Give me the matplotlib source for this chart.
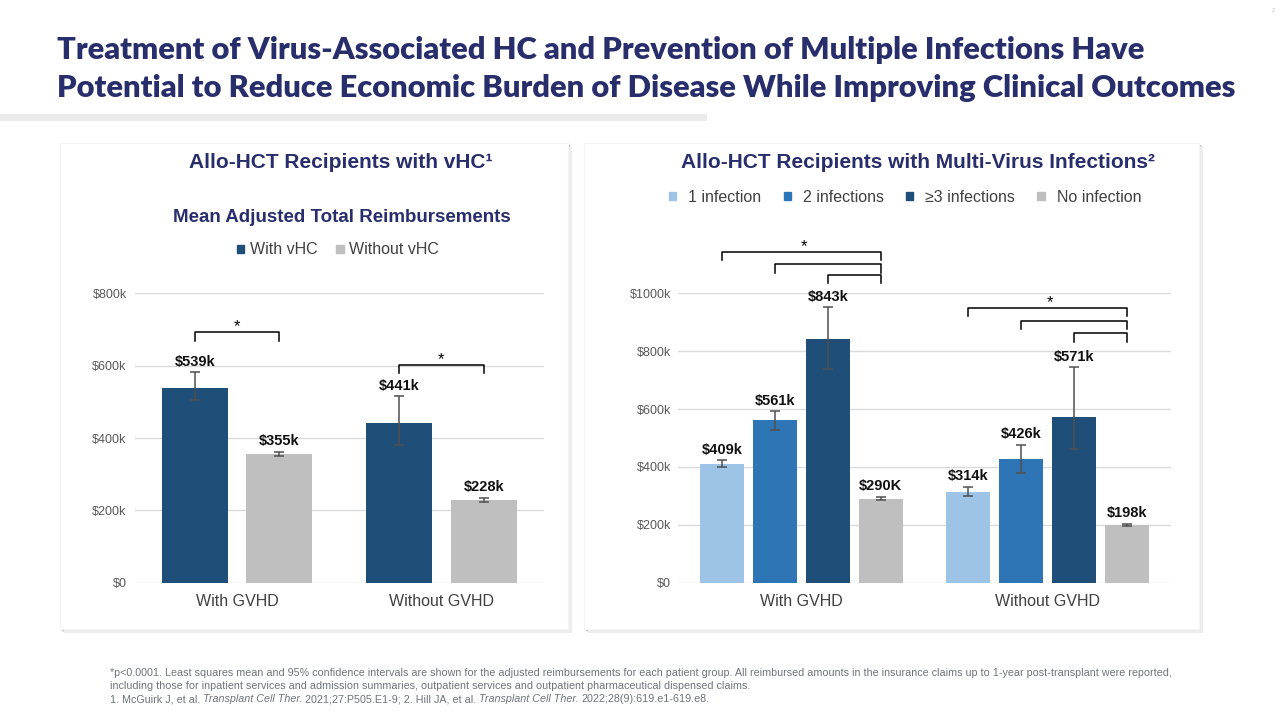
import matplotlib
matplotlib.use('Agg')
import matplotlib.pyplot as plt
from matplotlib.patches import Rectangle, Patch

# data (k$)
groups = ['With GVHD', 'Without GVHD']

vhc_names = ['With vHC', 'Without vHC']
with_vhc = [539, 441]
with_vhc_lo = [504, 380]
with_vhc_hi = [582, 515]
without_vhc = [355, 228]
without_vhc_lo = [350, 222]
without_vhc_hi = [362, 235]
vhc_labels = [['$539k', '$441k'], ['$355k', '$228k']]

inf_names = ['1 infection', '2 infections', '\u22653 infections', 'No infection']
inf1 = [409, 314]
inf1_lo = [399, 299]
inf1_hi = [423, 332]
inf2 = [561, 426]
inf2_lo = [527, 378]
inf2_hi = [592, 477]
inf3 = [843, 571]
inf3_lo = [737, 461]
inf3_hi = [952, 744]
noinf = [290, 198]
noinf_lo = [285, 195]
noinf_hi = [297, 204]
inf_labels = [['$409k', '$314k'], ['$561k', '$426k'], ['$843k', '$571k'], ['$290K', '$198k']]

W, H = 1280, 720
NAVY = '#282E6C'
BAR_DARK = '#1F4E79'
BAR_MID = '#2E75B6'
BAR_LIGHT = '#9DC3E6'
BAR_GREY = '#BFBFBF'
FOOT = '#6E737C'

plt.rcParams['font.family'] = ['Liberation Sans', 'DejaVu Sans']

fig = plt.figure(figsize=(12.8, 7.2), dpi=100)
rend = fig.canvas.get_renderer()


def fx(px):
    return px / W


def fy(py):
    return 1 - py / H


def rect(x0, y0, x1, y1, color, z, ec='none'):
    fig.add_artist(Rectangle((fx(x0), fy(y1)), (x1 - x0) / W, (y1 - y0) / H,
                             transform=fig.transFigure, facecolor=color,
                             edgecolor=ec, lw=0.8, zorder=z))


def panel(x0, y0, x1, y1):
    # soft drop shadow on right / bottom
    for off, c in [(4, '#EDEDED'), (3, '#D6D6D6'), (2, '#B8B8B8')]:
        rect(x0 + off, y0 + off, x1 + off, y1 + off, c, -10 + off * 0.1)
    rect(x0, y0, x1, y1, 'white', -9, ec='#F4F4F4')


# title
line1 = 'Treatment of Virus-Associated HC and Prevention of Multiple Infections Have'
line2 = 'Potential to Reduce Economic Burden of Disease While Improving Clinical Outcomes'
t1 = fig.text(fx(57), fy(50), line1, fontsize=20, fontweight='heavy', family='Lato',
              color=NAVY, va='center')
t2 = fig.text(fx(57), fy(88), line2, fontsize=20, fontweight='heavy', family='Lato',
              color=NAVY, va='center')
k = 1180 / t2.get_window_extent(rend).width
t1.set_fontsize(20 * k)
t2.set_fontsize(20 * k)

rect(0, 114, 707, 121, '#EBEBEB', -20)
fig.text(fx(1273), fy(11), '2', fontsize=4, color='#C0C0C0', ha='center', va='center')

panel(60, 143, 568, 629)
panel(584, 143, 1199, 629)


def style_axes(ax, top, step):
    ax.set_facecolor('none')
    for s in ax.spines.values():
        s.set_visible(False)
    ax.set_xlim(-0.5, 1.5)
    ax.set_ylim(0, top)
    ax.set_yticks(range(0, top + 1, step))
    ax.yaxis.set_major_formatter(lambda v, p: f'${v:.0f}k' if v else '$0')
    ax.grid(axis='y', color='#DADADA', lw=1)
    ax.set_axisbelow(True)
    ax.set_xticks([0, 1], groups)
    ax.tick_params(axis='x', length=0, pad=8, labelsize=11.5, labelcolor='#404040')
    ax.tick_params(axis='y', length=0, labelsize=9, labelcolor='#595959')


def bars(ax, xs, vals, lo, hi, color, labels, width):
    err = [[v - l for v, l in zip(vals, lo)], [h - v for v, h in zip(vals, hi)]]
    ax.bar(xs, vals, width, color=color, yerr=err, zorder=2,
           error_kw=dict(ecolor='#505050', elinewidth=1.1, capsize=3.5, capthick=1.1))
    for x, h, s in zip(xs, hi, labels):
        ax.annotate(s, (x, h), xytext=(0, 2.5), textcoords='offset points',
                    ha='center', va='bottom', fontsize=10.5, fontweight='bold',
                    color='#111111')


def bracket(ax, x0, x1, y, d0, d1):
    ax.plot([x0, x0, x1, x1], [d0, y, y, d1], color='black', lw=1.1,
            clip_on=False, zorder=3)


# left chart
axL = fig.add_axes([fx(135), fy(582.7), (543.5 - 135) / W, (582.7 - 293.3) / H])
style_axes(axL, 800, 200)
axL.tick_params(axis='y', pad=6)
off = 0.207
bars(axL, [i - off for i in range(2)], with_vhc, with_vhc_lo, with_vhc_hi,
     BAR_DARK, vhc_labels[0], 0.323)
bars(axL, [i + off for i in range(2)], without_vhc, without_vhc_lo, without_vhc_hi,
     BAR_GREY, vhc_labels[1], 0.323)
for g, (y, d) in enumerate([(692, 669), (601, 579)]):
    bracket(axL, g - off, g + off, y, d, d)
    axL.text(g, y + 3, '*', ha='center', va='baseline', fontsize=12, clip_on=False)

fig.text(fx(341), fy(163), 'Allo-HCT Recipients with vHC\u00b9', ha='center', va='center',
         fontsize=15, fontweight='bold', color=NAVY)
fig.text(fx(342), fy(217), 'Mean Adjusted Total Reimbursements', ha='center', va='center',
         fontsize=13.5, fontweight='bold', color=NAVY)
fig.legend(handles=[Patch(color=c, label=n) for c, n in zip([BAR_DARK, BAR_GREY], vhc_names)],
           loc='center', bbox_to_anchor=(fx(338), fy(250)), ncol=2, frameon=False,
           fontsize=11.5, handlelength=0.45, handleheight=0.45, handletextpad=0.35,
           columnspacing=1.2, labelcolor='#404040')

# right chart
axR = fig.add_axes([fx(678), fy(582.7), (1171 - 678) / W, (582.7 - 293.3) / H])
style_axes(axR, 1000, 200)
axR.tick_params(axis='y', pad=5)
step = 0.215
series = [(inf1, inf1_lo, inf1_hi, BAR_LIGHT), (inf2, inf2_lo, inf2_hi, BAR_MID),
          (inf3, inf3_lo, inf3_hi, BAR_DARK), (noinf, noinf_lo, noinf_hi, BAR_GREY)]
for j, (v, lo, hi, c) in enumerate(series):
    xs = [i + (j - 1.5) * step for i in range(2)]
    bars(axR, xs, v, lo, hi, c, inf_labels[j], 0.179)

levels = [[(1142, 1115), (1101, 1071), (1062, 1036)],
          [(948, 922), (903, 877), (862, 833)]]
for g in range(2):
    right = g + 1.5 * step
    for j, (y, d) in enumerate(levels[g]):
        bracket(axR, g + (j - 1.5) * step, right, y, d, d)
    y0 = levels[g][0][0]
    axR.text(g + 0.01, y0 + 4, '*', ha='center', va='baseline', fontsize=12, clip_on=False)

fig.text(fx(918), fy(163), 'Allo-HCT Recipients with Multi-Virus Infections\u00b2',
         ha='center', va='center', fontsize=15, fontweight='bold', color=NAVY)
fig.legend(handles=[Patch(color=s[3], label=n) for s, n in zip(series, inf_names)],
           loc='center', bbox_to_anchor=(fx(905), fy(197)), ncol=4, frameon=False,
           fontsize=11.5, handlelength=0.45, handleheight=0.45, handletextpad=0.75,
           columnspacing=1.4, labelcolor='#404040')

# footnote
foot1 = ('*p<0.0001. Least squares mean and 95% confidence intervals are shown for the adjusted '
         'reimbursements for each patient group. All reimbursed amounts in the insurance claims '
         'up to 1-year post-transplant were reported,')
foot2 = ('including those for inpatient services and admission summaries, outpatient services '
         'and outpatient pharmaceutical dispensed claims.')
f1 = fig.text(fx(110), fy(673), foot1, fontsize=7, color=FOOT, va='center')
fs = 7 * 1052 / f1.get_window_extent(rend).width
f1.set_fontsize(fs)
fig.text(fx(110), fy(686), foot2, fontsize=fs, color=FOOT, va='center')

parts = [('1. McGuirk J, et al.', 'normal'), ('Transplant Cell Ther.', 'italic'),
         ('2021;27:P505.E1-9; 2. Hill JA, et al.', 'normal'), ('Transplant Cell Ther.', 'italic'),
         ('2022;28(9):619.e1-619.e8.', 'normal')]
x = 110
for s, st in parts:
    t = fig.text(fx(x), fy(699), s, fontsize=fs, style=st, color=FOOT, va='center')
    x = t.get_window_extent(rend).x1 + fs * 0.35

fig.savefig('out.png', dpi=100, facecolor='white')
